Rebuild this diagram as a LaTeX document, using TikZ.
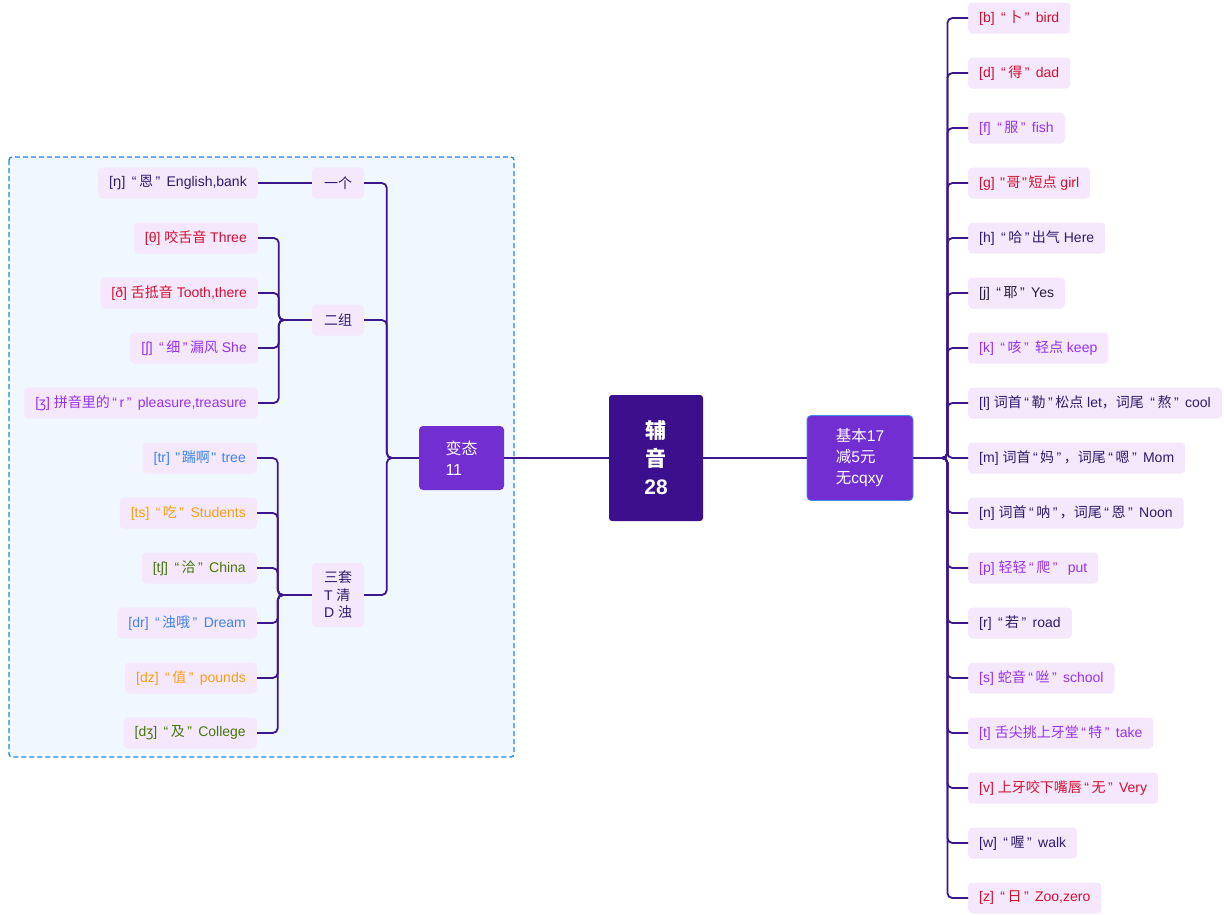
\documentclass[tikz,border=0pt]{standalone}
\usepackage{fontspec}
\setmainfont{Liberation Sans}
\setmonofont{Liberation Sans}
\newfontfamily\cjk{Noto Sans CJK SC}
\newfontfamily\ipafont{Noto Sans}
\newcommand{\zh}[1]{{\cjk #1}}
\newcommand{\ipa}[1]{{\ipafont #1}}
\newcommand{\sq}{\kern1.5pt{\ttfamily"}\kern1.5pt}
\newcommand{\oq}{\kern2.5pt“\kern2.5pt}
\newcommand{\cq}{\kern2.5pt”\kern2.5pt}
\definecolor{linkcolor}{RGB}{60,22,140}
\definecolor{rootcolor}{RGB}{60,16,140}
\definecolor{maincolor}{RGB}{114,46,209}
\definecolor{leafcolor}{RGB}{245,231,252}
\definecolor{panelcolor}{RGB}{240,247,255}
\definecolor{paneledge}{RGB}{30,136,229}
\definecolor{basicedge}{RGB}{70,140,235}
\definecolor{txtdark}{RGB}{48,28,110}
\definecolor{txtblack}{RGB}{38,30,58}
\definecolor{txtred}{RGB}{212,16,48}
\definecolor{txtpurple}{RGB}{150,50,240}
\definecolor{txtblue}{RGB}{64,132,232}
\definecolor{txtorange}{RGB}{245,160,20}
\definecolor{txtgreen}{RGB}{72,118,12}
\usepackage{tikz}
\usetikzlibrary{positioning}

\begin{document}
\begin{tikzpicture}[x=1pt,y=1pt,
    leaf/.style={rectangle,rounded corners=4pt,fill=leafcolor,
        minimum height=31pt,inner xsep=11pt,inner ysep=0pt,
        font=\fontsize{14}{17}\selectfont},
    rleaf/.style={leaf,anchor=west},
    lleaf/.style={leaf,anchor=east},
    group/.style={leaf,minimum width=52pt,text=txtdark,align=left,inner xsep=4pt},
    link/.style={draw=linkcolor,line width=1.8pt,rounded corners=5pt}]
  \useasboundingbox (0,0) rectangle (1224,-914);
  % panel
  \draw[paneledge,fill=panelcolor,rounded corners=3pt,line width=1.3pt,
        dash pattern=on 5pt off 3pt] (9,-157) rectangle (514,-757);

  % root and main branches
  \node[rectangle,rounded corners=3pt,fill=rootcolor,text=white,
        minimum width=94pt,minimum height=126pt,align=center,
        font=\fontsize{21}{28}\bfseries\selectfont] (root) at (656,-458) {\zh{辅}\\\zh{音}\\28};
  \node[rectangle,rounded corners=4pt,fill=maincolor,text=white,
        minimum width=85pt,minimum height=64pt,align=left,
        font=\fontsize{16}{21}\selectfont] (biantai) at (461.5,-458) {\zh{变态}\\11};
  \node[rectangle,rounded corners=4pt,fill=maincolor,draw=basicedge,line width=0.8pt,text=white,
        minimum width=106pt,minimum height=85pt,align=left,
        font=\fontsize{15.5}{21}\selectfont] (basic) at (860,-458) {\zh{基本}17\\\zh{减}5\zh{元}\\\zh{无}cqxy};

  % groups
  \node[group] (yige) at (338,-183) {\zh{一个}};
  \node[group] (erzu) at (338,-320) {\zh{二组}};
  \node[group,minimum height=64pt,font=\fontsize{14}{17.5}\selectfont] (santao) at (338,-595)
    {\zh{三套}\\T \zh{清}\\D \zh{浊}};

  % left leaves
  \node[lleaf,text=txtdark] (ng) at (258,-183) {[\ipa{ŋ}] \oq\zh{恩}\cq{} English,bank};
  \node[lleaf,text=txtred] (th) at (258,-238) {[θ] \zh{咬舌音} Three};
  \node[lleaf,text=txtred] (dh) at (258,-293) {[ð] \zh{舌抵音} Tooth,there};
  \node[lleaf,text=txtpurple] (sh) at (258,-348) {[\ipa{ʃ}] \oq\zh{细}\cq\zh{漏风} She};
  \node[lleaf,text=txtpurple] (zh) at (258,-403) {[\ipa{ʒ}] \zh{拼音里的}\oq r\cq{} pleasure,treasure};
  \node[lleaf,text=txtblue] (tr) at (257,-458) {[tr] \sq\zh{踹啊}\sq{} tree};
  \node[lleaf,text=txtorange] (ts) at (257,-513) {[ts] \oq\zh{吃}\cq{} Students};
  \node[lleaf,text=txtgreen] (tsh) at (257,-568) {[t\ipa{ʃ}] \oq\zh{洽}\cq{} China};
  \node[lleaf,text=txtblue] (dr) at (257,-623) {[dr] \oq\zh{浊哦}\cq{} Dream};
  \node[lleaf,text=txtorange] (dz) at (257,-678) {[dz] \oq\zh{值}\cq{} pounds};
  \node[lleaf,text=txtgreen] (dzh) at (257,-733) {[d\ipa{ʒ}] \oq\zh{及}\cq{} College};

  % right leaves
  \node[rleaf,text=txtred] (b) at (968,-18) {[b] \oq\zh{卜}\cq{} bird};
  \node[rleaf,text=txtred] (d) at (968,-73) {[d] \oq\zh{得}\cq{} dad};
  \node[rleaf,text=txtpurple] (f) at (968,-128) {[f] \oq\zh{服}\cq{} fish};
  \node[rleaf,text=txtred] (g) at (968,-183) {[g] \sq\zh{哥}\sq\zh{短点} girl};
  \node[rleaf,text=txtdark] (h) at (968,-238) {[h] \oq\zh{哈}\cq\zh{出气} Here};
  \node[rleaf,text=txtblack] (j) at (968,-293) {[j] \oq\zh{耶}\cq{} Yes};
  \node[rleaf,text=txtpurple] (k) at (968,-348) {[k] \oq\zh{咳}\cq{} \zh{轻点} keep};
  \node[rleaf,text=txtdark] (l) at (968,-403) {[l] \zh{词首}\oq\zh{勒}\cq\zh{松点} let\zh{，词尾} \oq\zh{熬}\cq{} cool};
  \node[rleaf,text=txtdark] (m) at (968,-458) {[m] \zh{词首}\oq\zh{妈}\cq\zh{，词尾}\oq\zh{嗯}\cq{} Mom};
  \node[rleaf,text=txtdark] (n) at (968,-513) {[n] \zh{词首}\oq\zh{呐}\cq\zh{，词尾}\oq\zh{恩}\cq{} Noon};
  \node[rleaf,text=txtpurple] (p) at (968,-568) {[p] \zh{轻轻}\oq\zh{爬}\cq{}~ put};
  \node[rleaf,text=txtdark] (r) at (968,-623) {[r] \oq\zh{若}\cq{} road};
  \node[rleaf,text=txtpurple] (s) at (968,-678) {[s] \zh{蛇音}\oq\zh{咝}\cq{} school};
  \node[rleaf,text=txtpurple] (t) at (968,-733) {[t] \zh{舌尖挑上牙堂}\oq\zh{特}\cq{} take};
  \node[rleaf,text=txtred] (v) at (968,-788) {[v] \zh{上牙咬下嘴唇}\oq\zh{无}\cq{} Very};
  \node[rleaf,text=txtdark] (w) at (968,-843) {[w] \oq\zh{喔}\cq{} walk};
  \node[rleaf,text=txtred] (z) at (968,-898) {[z] \oq\zh{日}\cq{} Zoo,zero};

  % links
  \draw[link] (biantai.east) -- (root.west);
  \draw[link] (root.east) -- (basic.west);
  \foreach \leafname in {b,d,f,g,h,j,k,l,m,n,p,r,s,t,v,w,z}
    \draw[link] (basic.east) -- ++(34,0) |- (\leafname.west);
  \foreach \grp in {yige,erzu,santao}
    \draw[link] (biantai.west) -- ++(-32,0) |- (\grp.east);
  \draw[link] (yige.west) -- (ng.east);
  \foreach \leafname in {th,dh,sh,zh}
    \draw[link] (erzu.west) -- ++(-33,0) |- (\leafname.east);
  \foreach \leafname in {tr,ts,tsh,dr,dz,dzh}
    \draw[link] (santao.west) -- ++(-34,0) |- (\leafname.east);
\end{tikzpicture}
\end{document}
